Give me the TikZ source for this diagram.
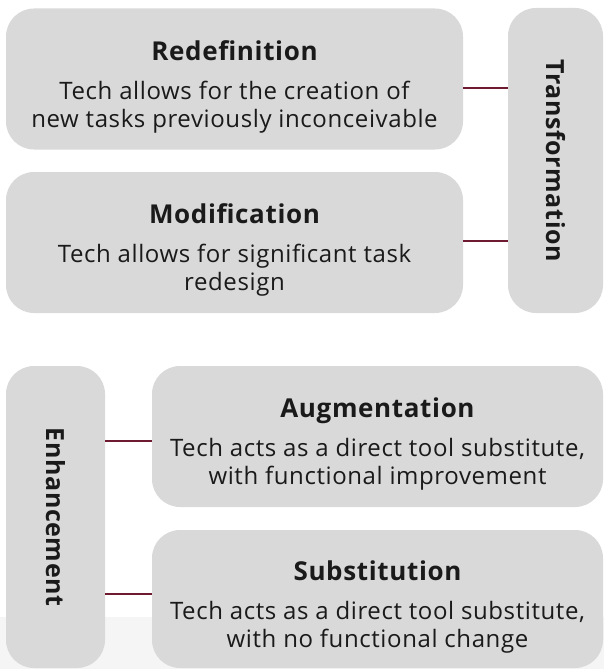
\documentclass[tikz,border=0pt]{standalone}
\usepackage{fontspec}
\setmainfont{Open Sans}[LetterSpace=2.5]
\usetikzlibrary{positioning}

\definecolor{boxgray}{HTML}{D9D9D9}
\definecolor{linkred}{HTML}{6E1A30}
\definecolor{inkblack}{HTML}{1A1A1A}

% bold stage name on its own line, with some air above it
\newcommand{\stagehead}[1]{\rule{0pt}{35pt}{\bfseries\fontsize{26}{28}\selectfont #1}\\[11pt]}

\begin{document}
\begin{tikzpicture}[
    x=1pt, y=-1pt,
    font=\fontsize{24}{28}\selectfont, text=inkblack,
    stage/.style={fill=boxgray,rounded corners=28pt,align=center,inner sep=0pt},
    level/.style={stage,minimum width=#1,minimum height=141pt},
    group/.style={stage,rotate=-90,font=\fontsize{25}{28}\selectfont\bfseries},
    link/.style={draw=linkred,line width=2.2pt}
]
\path[use as bounding box] (0,0) rectangle (604,669);
\fill[black!4] (0,617) rectangle (604,669);

% upper pair and its bracket
\node[level=457pt] (red) at (234.5,79)
    {\stagehead{Redefinition}
     Tech allows for the creation of\\new tasks previously inconceivable};
\node[level=457pt] (mod) at (234.5,242.5)
    {\stagehead{Modification}
     Tech allows for significant task\\redesign};
\node[group,minimum width=305pt,minimum height=95pt] (trans) at (555.5,160.5)
    {Transformation};

% lower pair and its bracket
\node[group,minimum width=302pt,minimum height=99pt] (enh) at (55.5,517)
    {Enhancement};
\node[level=451pt] (aug) at (377.5,436.5)
    {\stagehead{Augmentation}
     Tech acts as a direct tool substitute,\\with functional improvement};
\node[level=451pt,minimum height=138pt] (sub) at (377.5,599)
    {\stagehead{Substitution}
     Tech acts as a direct tool substitute,\\with no functional change};

\foreach \b/\s in {red/-9,mod/1.5}
    \draw[link] ([yshift=\s pt]\b.east) -- ([yshift=\s pt]\b.east -| trans.south);
\foreach \b/\s in {aug/-4.5,sub/5}
    \draw[link] ([yshift=\s pt]\b.west) -- ([yshift=\s pt]\b.west -| enh.north);
\end{tikzpicture}
\end{document}
